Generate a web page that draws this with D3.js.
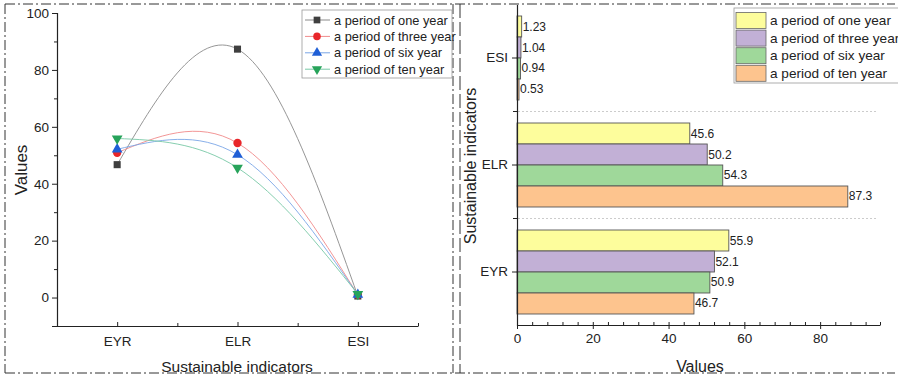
<!DOCTYPE html>
<html>
<head>
<meta charset="utf-8">
<script src="https://cdn.jsdelivr.net/npm/d3@7"></script>
<style>
  body { margin: 0; background: #fff; }
  text { font-family: "Liberation Sans", Arial, sans-serif; fill: #222; }
</style>
</head>
<body>
<div id="chart"></div>
<script>
var width = 898;
var height = 379;

// data
var indicators = ["EYR", "ELR", "ESI"];
var seriesNames = ["a period of one year", "a period of three year", "a period of six year", "a period of ten year"];
// left panel (line chart), values per indicator
var lineOne = [46.7, 87.3, 0.53];
var lineThree = [50.9, 54.3, 0.94];
var lineSix = [52.1, 50.2, 1.04];
var lineTen = [55.9, 45.6, 1.23];
// right panel (bar chart), values per indicator
var barOne = [55.9, 45.6, 1.23];
var barThree = [52.1, 50.2, 1.04];
var barSix = [50.9, 54.3, 0.94];
var barTen = [46.7, 87.3, 0.53];
var leftTicks = [0, 20, 40, 60, 80, 100];
var rightTicks = [0, 20, 40, 60, 80];

var lineData = [lineOne, lineThree, lineSix, lineTen];
var barData = [barOne, barThree, barSix, barTen];

var markerColor = ["#3f3f3f", "#e8262a", "#1f5fd6", "#27a35a"];
var curveColor = ["#8a8a8a", "#f08a8a", "#7aa6e6", "#78c8a6"];
var markerType = [d3.symbolSquare, d3.symbolCircle, d3.symbolTriangle, d3.symbolTriangle];
var barColor = ["#fdfd9c", "#c2b0d6", "#9fd89a", "#fdc48e"];

var svg = d3.select("#chart").append("svg")
  .attr("width", width)
  .attr("height", height);

// dash-dot panel borders
var border = svg.append("g")
  .attr("fill", "none")
  .attr("stroke", "#333")
  .attr("stroke-width", 1)
  .attr("stroke-dasharray", "10,3,2,3");
border.append("line").attr("x1", 5).attr("x2", 895).attr("y1", 4).attr("y2", 4);
border.append("line").attr("x1", 5).attr("x2", 895).attr("y1", 373).attr("y2", 373);
border.append("line").attr("x1", 5).attr("x2", 5).attr("y1", 4).attr("y2", 373);
border.append("line").attr("x1", 453).attr("x2", 453).attr("y1", 4).attr("y2", 373);
border.append("line").attr("x1", 460).attr("x2", 460).attr("y1", 4).attr("y2", 373)
  .attr("stroke-dasharray", "14,4");

// ---------- left panel ----------
var x1 = d3.scaleLinear().domain([-0.5, 2.5]).range([57, 418]);
var y1 = d3.scaleLinear().domain([-10, 100]).range([326, 13]);

var left = svg.append("g");

var yAxis1 = left.append("g")
  .attr("transform", "translate(57,0)")
  .call(d3.axisLeft(y1).tickValues(leftTicks).tickSize(5).tickPadding(3));
left.append("g")
  .attr("transform", "translate(57,0)")
  .call(d3.axisLeft(y1).tickValues(d3.range(-10, 100, 20)).tickSize(3).tickFormat(""))
  .select(".domain").remove();

var xAxis1 = left.append("g")
  .attr("transform", "translate(0,326)")
  .call(d3.axisBottom(x1).tickValues([0, 1, 2]).tickFormat((d, i) => indicators[i]).tickSizeInner(-4).tickSizeOuter(0).tickPadding(10));
left.append("g")
  .attr("transform", "translate(0,326)")
  .call(d3.axisBottom(x1).tickValues([-0.5, 0.5, 1.5, 2.5]).tickSize(-3).tickFormat(""))
  .select(".domain").remove();

left.selectAll(".domain").attr("stroke", "#222").attr("stroke-width", 1.2);
left.selectAll(".tick line").attr("stroke", "#222");
left.selectAll(".tick text").attr("font-size", 13.5).attr("fill", "#222")
  .attr("font-family", "Liberation Sans, Arial, sans-serif");

var curve = d3.line()
  .x((d, i) => x1(i))
  .y(d => y1(d))
  .curve(d3.curveNatural);

lineData.forEach((s, k) => {
  left.append("path")
    .attr("d", curve(s))
    .attr("fill", "none")
    .attr("stroke", curveColor[k])
    .attr("stroke-width", 0.9);
});

lineData.forEach((s, k) => {
  var sym = d3.symbol().type(markerType[k]).size(k == 1 ? 55 : 50);
  left.selectAll(null)
    .data(s)
    .enter()
    .append("path")
    .attr("d", sym)
    .attr("transform", (d, i) => "translate(" + x1(i) + "," + y1(d) + ")" + (k == 3 ? " rotate(180)" : ""))
    .attr("fill", markerColor[k]);
});

left.append("text")
  .attr("transform", "translate(21,170) rotate(-90)")
  .attr("text-anchor", "middle")
  .attr("dominant-baseline", "central")
  .attr("font-size", 17)
  .text("Values");

left.append("text")
  .attr("x", 237)
  .attr("y", 366)
  .attr("text-anchor", "middle")
  .attr("dominant-baseline", "central")
  .attr("font-size", 15.5)
  .text("Sustainable indicators");

// left legend
var leg1 = left.append("g");
leg1.append("rect")
  .attr("x", 302).attr("y", 10).attr("width", 150).attr("height", 68)
  .attr("fill", "#fff").attr("stroke", "#999").attr("stroke-width", 0.8);
seriesNames.forEach((name, k) => {
  var cy = 20 + k * 16.4;
  leg1.append("line")
    .attr("x1", 305).attr("x2", 330).attr("y1", cy).attr("y2", cy)
    .attr("stroke", curveColor[k]).attr("stroke-width", 1);
  leg1.append("path")
    .attr("d", d3.symbol().type(markerType[k]).size(45))
    .attr("transform", "translate(317," + cy + ")" + (k == 3 ? " rotate(180)" : ""))
    .attr("fill", markerColor[k]);
  leg1.append("text")
    .attr("x", 334).attr("y", cy)
    .attr("dominant-baseline", "central")
    .attr("font-size", 12.8)
    .text(name);
});

// ---------- right panel ----------
var x2 = d3.scaleLinear().domain([0, 95.8]).range([517, 880]);
var y2 = d3.scaleBand().domain(indicators.slice().reverse()).range([4.5, 325.5]).paddingInner(0).paddingOuter(0);
var barBand = y2.bandwidth() * 0.785;
var barH = barBand / 4;

var right = svg.append("g");

// dotted separators between groups
[y2("ELR"), y2("EYR")].forEach(v => {
  right.append("line")
    .attr("x1", 518).attr("x2", 878).attr("y1", v).attr("y2", v)
    .attr("stroke", "#ccc").attr("stroke-width", 1).attr("stroke-dasharray", "2,2");
});

indicators.forEach((ind, i) => {
  var top = y2(ind) + (y2.bandwidth() - barBand) / 2;
  barData.forEach((s, k) => {
    right.append("rect")
      .attr("x", x2(0))
      .attr("y", top + k * barH)
      .attr("width", x2(s[i]) - x2(0))
      .attr("height", barH)
      .attr("fill", barColor[k])
      .attr("stroke", "#555")
      .attr("stroke-width", 0.9);
    right.append("text")
      .attr("x", x2(s[i]) + 1)
      .attr("y", top + k * barH + barH / 2)
      .attr("dominant-baseline", "central")
      .attr("font-size", 12)
      .attr("fill", "#333")
      .text(s[i]);
  });
});

var xAxis2 = right.append("g")
  .attr("transform", "translate(0,325)")
  .call(d3.axisBottom(x2).tickValues(rightTicks).tickSizeInner(4).tickSizeOuter(0).tickPadding(4));
right.append("g")
  .attr("transform", "translate(0,325)")
  .call(d3.axisBottom(x2).tickValues(d3.range(0, 96, 4).concat([95.8])).tickSize(-3).tickFormat(""))
  .select(".domain").remove();

var yAxis2 = right.append("g")
  .attr("transform", "translate(517,0)")
  .call(d3.axisLeft(y2).tickSizeInner(5).tickSizeOuter(0).tickPadding(4));
[y2("ELR"), y2("EYR")].forEach(v => {
  right.append("line")
    .attr("x1", 513).attr("x2", 517).attr("y1", v).attr("y2", v)
    .attr("stroke", "#222");
});

right.selectAll(".domain").attr("stroke", "#222").attr("stroke-width", 1.2);
right.selectAll(".tick line").attr("stroke", "#222");
right.selectAll(".tick text").attr("font-size", 13.5).attr("fill", "#222")
  .attr("font-family", "Liberation Sans, Arial, sans-serif");

right.append("text")
  .attr("transform", "translate(470,166) rotate(-90)")
  .attr("text-anchor", "middle")
  .attr("dominant-baseline", "central")
  .attr("font-size", 16)
  .text("Sustainable indicators");

right.append("text")
  .attr("x", 700)
  .attr("y", 366)
  .attr("text-anchor", "middle")
  .attr("dominant-baseline", "central")
  .attr("font-size", 16)
  .text("Values");

// right legend
var leg2 = right.append("g");
leg2.append("rect")
  .attr("x", 734).attr("y", 8).attr("width", 170).attr("height", 75)
  .attr("fill", "#fff").attr("stroke", "#999").attr("stroke-width", 0.8);
seriesNames.forEach((name, k) => {
  var cy = 20.5 + k * 17.6;
  leg2.append("rect")
    .attr("x", 736).attr("y", cy - 8).attr("width", 30).attr("height", 16)
    .attr("fill", barColor[k]).attr("stroke", "#666").attr("stroke-width", 0.8);
  leg2.append("text")
    .attr("x", 770).attr("y", cy)
    .attr("dominant-baseline", "central")
    .attr("font-size", 13.6)
    .text(name);
});
</script>
</body>
</html>
